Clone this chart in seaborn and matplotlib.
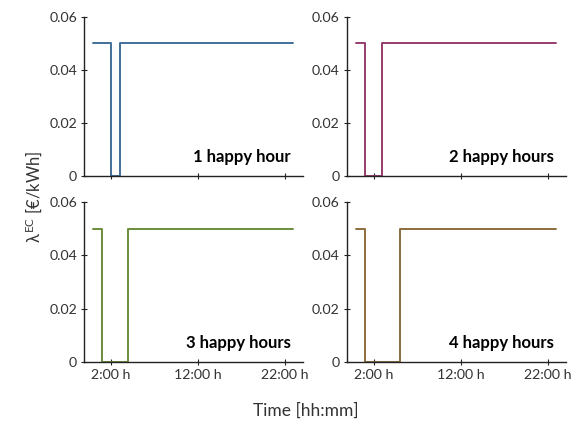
import matplotlib
matplotlib.use("Agg")
import matplotlib.pyplot as plt
import seaborn as sns
import pandas as pd

sns.set_theme(style="ticks")
plt.rcParams['font.family'] = ['Lato', 'DejaVu Sans']
plt.rcParams['mathtext.fontset'] = 'custom'
plt.rcParams['mathtext.rm'] = 'Lato'
plt.rcParams['mathtext.it'] = 'Lato'

hours = list(range(24))
price_1h = [0.05, 0.05, 0, 0.05, 0.05, 0.05, 0.05, 0.05, 0.05, 0.05, 0.05, 0.05,
            0.05, 0.05, 0.05, 0.05, 0.05, 0.05, 0.05, 0.05, 0.05, 0.05, 0.05, 0.05]
price_2h = [0.05, 0, 0, 0.05, 0.05, 0.05, 0.05, 0.05, 0.05, 0.05, 0.05, 0.05,
            0.05, 0.05, 0.05, 0.05, 0.05, 0.05, 0.05, 0.05, 0.05, 0.05, 0.05, 0.05]
price_3h = [0.05, 0, 0, 0, 0.05, 0.05, 0.05, 0.05, 0.05, 0.05, 0.05, 0.05,
            0.05, 0.05, 0.05, 0.05, 0.05, 0.05, 0.05, 0.05, 0.05, 0.05, 0.05, 0.05]
price_4h = [0.05, 0, 0, 0, 0, 0.05, 0.05, 0.05, 0.05, 0.05, 0.05, 0.05,
            0.05, 0.05, 0.05, 0.05, 0.05, 0.05, 0.05, 0.05, 0.05, 0.05, 0.05, 0.05]
panel_titles = ["1 happy hour", "2 happy hours", "3 happy hours", "4 happy hours"]
xtick_pos = [2, 12, 22]
xtick_labels = ["2:00 h", "12:00 h", "22:00 h"]
ytick_pos = [0, 0.02, 0.04, 0.06]
ytick_labels = ["0", "0.02", "0.04", "0.06"]

series = [price_1h, price_2h, price_3h, price_4h]
colors = ["#41709a", "#963d6f", "#6b8c3c", "#8c6b3f"]

fig, axes = plt.subplots(2, 2, figsize=(5.71, 4.23), dpi=100)
fig.subplots_adjust(left=0.147, right=0.991, bottom=0.145, top=0.96,
                    wspace=0.2, hspace=0.164)

for i, ax in enumerate(axes.flat):
    df = pd.DataFrame({"hour": hours, "price": series[i]})
    sns.lineplot(data=df, x="hour", y="price", ax=ax, color=colors[i],
                 drawstyle="steps-post", estimator=None, linewidth=1.4)
    ax.set_xlim(-1.1, 24.1)
    ax.set_ylim(0, 0.06)
    ax.set_xticks(xtick_pos)
    ax.set_yticks(ytick_pos)
    ax.set_yticklabels(ytick_labels)
    if i >= 2:
        ax.set_xticklabels(xtick_labels)
    else:
        ax.set_xticklabels([])
    ax.set_xlabel("")
    ax.set_ylabel("")
    sns.despine(ax=ax)
    for s in ["left", "bottom"]:
        ax.spines[s].set_color("#222222")
        ax.spines[s].set_linewidth(1.0)
    ax.tick_params(direction="inout", length=4, width=0.8, colors="#222222",
                   labelsize=10.2, labelcolor="#333333", pad=3)
    ax.text(0.945, 0.12, panel_titles[i], transform=ax.transAxes,
            ha="right", va="center", fontsize=12, fontweight="bold", color="black")

fig.text(0.535, 0.03, "Time [hh:mm]", ha="center", va="center",
         fontsize=12.5, color="#333333")
fig.text(0.058, 0.535, r"$\lambda^{\mathrm{EC}}$ [€/kWh]", ha="center", va="center",
         rotation=90, fontsize=12, color="#333333")

fig.savefig("out.png", dpi=100)
